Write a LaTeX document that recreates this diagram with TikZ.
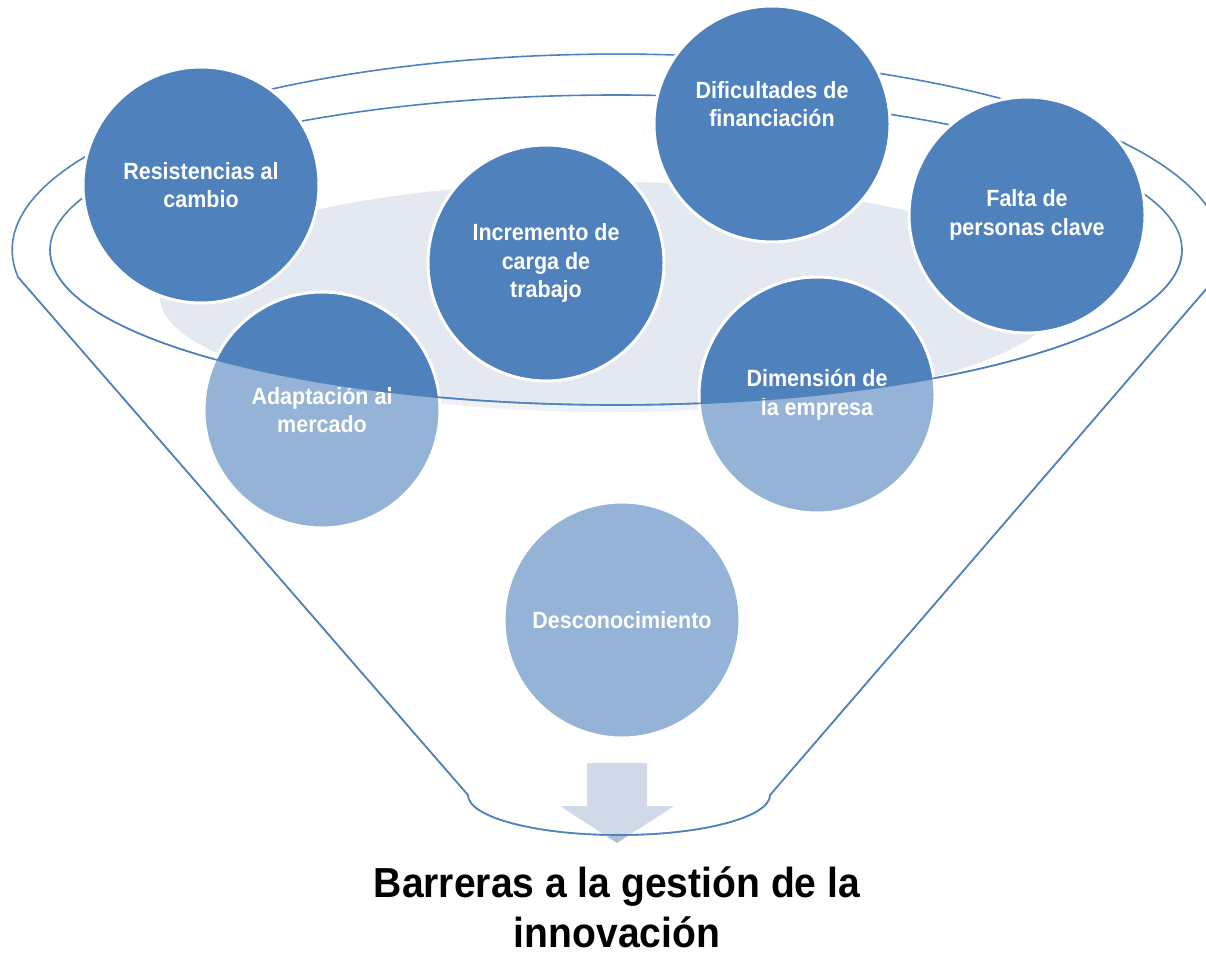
\documentclass[tikz,border=0pt]{standalone}
\usepackage{fontspec}
\setmainfont{Liberation Sans}
\newfontfamily\circfont{Liberation Sans}[FakeStretch=0.915]
\newfontfamily\ttlfont{Liberation Sans}[FakeStretch=0.93]
\definecolor{sblue}{RGB}{79,129,189}
\definecolor{sgray}{RGB}{227,232,241}
\definecolor{sarrow}{RGB}{177,193,218}
\begin{document}
\begin{tikzpicture}[x=1pt,y=-1pt,
  bub/.style={circle,minimum size=236pt,inner sep=0pt,fill=sblue,draw=white,line width=3pt,
    text=white,align=center,font=\circfont\bfseries\fontsize{23.5}{28.5}\selectfont},
  btxt/.style={inner sep=0pt,text=white,align=center,font=\circfont\bfseries\fontsize{23.5}{28.5}\selectfont},
  rim/.style={draw=sblue,line width=1.6pt,line join=round},
  ttl/.style={anchor=base,inner sep=0pt,font=\ttlfont\bfseries\fontsize{42}{50}\selectfont}]
\useasboundingbox (0,0) rectangle (1206,953);
% inner light area of the funnel mouth
\fill[sgray] (610,297) ellipse [x radius=450pt, y radius=115pt];
% funnel outline (back)
\draw[rim] (468,795) -- (18,277)
  arc[start angle=187.9,end angle=-7.9,x radius=605pt,y radius=196pt]
  -- (770,795) arc[start angle=0,end angle=-180,x radius=151pt,y radius=40pt] -- cycle;
\draw[rim] (616,250) ellipse [x radius=566pt, y radius=155pt];
% circles
\node[bub] (res) at (201,185) {Resistencias al\\cambio};
\node[bub] (dif) at (772,124) {};
\node[btxt] (dift) at (772,104) {Dificultades de\\financiación};
\node[bub] (fal) at (1027,215) {Falta de\\personas clave};
\node[bub] (inc) at (546,263) {Incremento de\\carga de\\trabajo};
\node[bub] (ada) at (322,410) {Adaptación al\\mercado};
\node[bub] (dim) at (817,395) {Dimensión de\\la empresa};
\node[bub] (des) at (622,620) {Desconocimiento};
% arrow
\fill[sarrow] (587,763) -- (647,763) -- (647,806) -- (674,806) -- (617,843) -- (560,806) -- (587,806) -- cycle;
% front of the funnel (translucent)
\fill[white,opacity=0.4] (50,250)
  arc[start angle=180,end angle=360,x radius=566pt,y radius=155pt]
  -- (1216.6,277) -- (770,795)
  arc[start angle=0,end angle=-180,x radius=151pt,y radius=40pt]
  -- (18,277) -- cycle;
\draw[rim] (50,250) arc[start angle=180,end angle=360,x radius=566pt,y radius=155pt];
\draw[rim] (18,277) -- (468,795)
  arc[start angle=180,end angle=360,x radius=151pt,y radius=40pt] -- (1216.6,277);
% title
\node[ttl] (t1) at (617,897) {Barreras a la gestión de la};
\node[ttl] (t2) at (617,947) {innovación};
\end{tikzpicture}
\end{document}
